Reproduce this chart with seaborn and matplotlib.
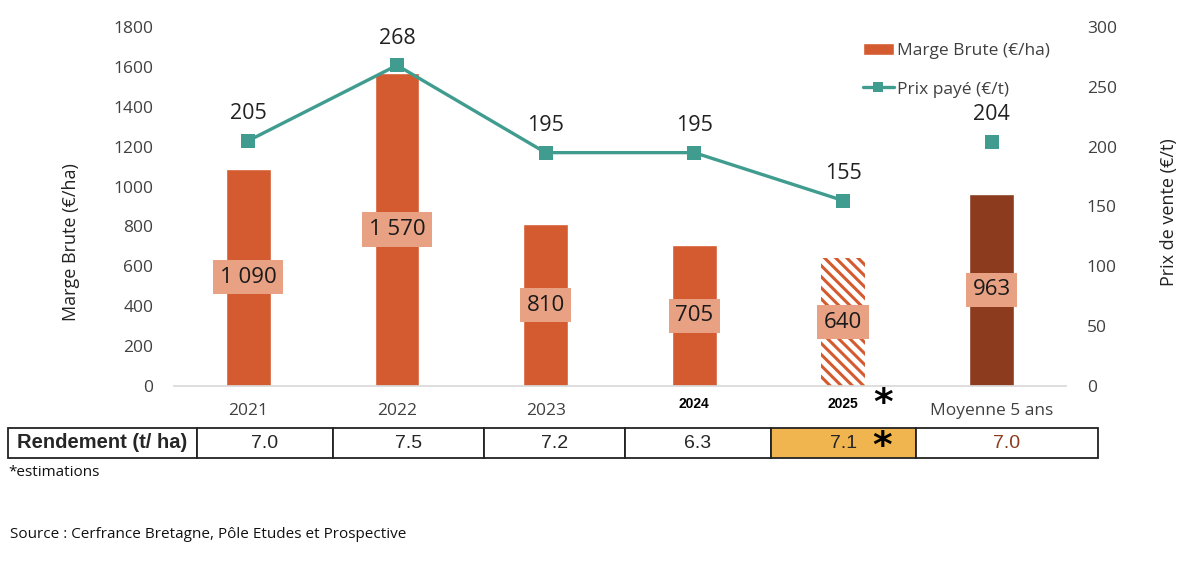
import numpy as np
import pandas as pd
import matplotlib.pyplot as plt
import seaborn as sns
from matplotlib.patches import Patch
from matplotlib.lines import Line2D

# données
years = ['2021', '2022', '2023', '2024', '2025', 'Moyenne 5 ans']
marge = [1090, 1570, 810, 705, 640, 963]
marge_labels = ['1 090', '1 570', '810', '705', '640', '963']
prix = [205, 268, 195, 195, 155, 204]
rendement = ['7.0', '7.5', '7.2', '6.3', '7.1', '7.0']
rendement_titre = 'Rendement (t/ ha)'

orange = '#D35B2F'
brun = '#8C3B1F'
saumon = '#E9A184'
vert = '#3F9C8F'
gris = '#404040'

sns.set_theme(style='white')
plt.rcParams['font.family'] = ['Open Sans', 'DejaVu Sans']
plt.rcParams['hatch.linewidth'] = 2.2

fig = plt.figure(figsize=(12, 5.69), dpi=100)
ax = fig.add_axes([174 / 1200, 1 - 386 / 569, 892 / 1200, 359 / 569])

# barres : marge brute
df = pd.DataFrame({'annee': years, 'marge': marge})
sns.barplot(data=df, x='annee', y='marge', hue='annee',
            palette=[orange] * 5 + [brun], legend=False,
            width=0.3, saturation=1, ax=ax)
bars = ax.patches
bars[4].set_facecolor('white')
bars[4].set_edgecolor(orange)
bars[4].set_hatch('\\\\\\')
bars[4].set_linewidth(0)

x_pos = np.arange(len(years))
for i, v in enumerate(marge):
    ax.text(x_pos[i], v / 2, marge_labels[i], ha='center', va='center',
            fontsize=16, color='#1a1a1a', fontweight='medium',
            bbox=dict(boxstyle='square,pad=0.3', facecolor=saumon, edgecolor='none'))

ax.set_xlim(-0.5, len(years) - 0.5)
ax.set_ylim(0, 1800)
ax.set_yticks(range(0, 1801, 200))
ax.set_xticks(x_pos)
ax.set_xticklabels([y if i not in (3, 4) else '' for i, y in enumerate(years)])
ax.set_xticks(np.arange(-0.5, len(years), 1), minor=True)
ax.tick_params(axis='x', which='major', length=0, pad=12, labelsize=12.5, labelcolor=gris)
ax.tick_params(axis='x', which='minor', length=6, color='#D9D9D9', width=1)
ax.tick_params(axis='y', length=0, pad=15, labelsize=12.5, labelcolor=gris)
for s in ['left', 'right', 'top']:
    ax.spines[s].set_visible(False)
ax.spines['bottom'].set_color('#D9D9D9')
ax.set_xlabel('')
ax.set_ylabel('Marge Brute (€/ha)', fontsize=13, color='#222222')
ax.yaxis.set_label_coords(-0.105, 0.40)

# 2024 et 2025 dans une autre police
for i in (3, 4):
    ax.text(x_pos[i], -0.03, years[i], transform=ax.get_xaxis_transform(),
            ha='center', va='top', fontsize=10, fontweight='bold',
            family='Liberation Sans', color='black')
ax.text(4.27, 0.0, '*', transform=ax.get_xaxis_transform(), ha='center', va='top',
        fontsize=27, fontweight='bold', family='DejaVu Sans', color='black')

# ligne : prix payé
ax2 = ax.twinx()
sns.lineplot(x=x_pos[:5], y=prix[:5], ax=ax2, color=vert, lw=2.4,
             marker='s', markersize=9.5, markeredgewidth=0)
sns.scatterplot(x=x_pos[5:], y=prix[5:], ax=ax2, color=vert, marker='s', s=90, linewidth=0)
for i, v in enumerate(prix):
    ax2.annotate(str(v), (x_pos[i], v), xytext=(0, 12), textcoords='offset points',
                 ha='center', va='bottom', fontsize=15.5, color='#222222')
ax2.set_ylim(0, 300)
ax2.set_yticks(range(0, 301, 50))
ax2.set_xlim(-0.5, len(years) - 0.5)
ax2.tick_params(axis='y', length=0, pad=15, labelsize=12.5, labelcolor=gris)
for s in ax2.spines.values():
    s.set_visible(False)
ax2.set_ylabel('Prix de vente (€/t)', fontsize=13, color='#222222')
ax2.yaxis.set_label_coords(1.105, 0.485)

handles = [Patch(facecolor=orange, label='Marge Brute (€/ha)'),
           Line2D([0], [0], color=vert, lw=2.4, marker='s', markersize=7.5,
                  markeredgewidth=0, label='Prix payé (€/t)')]
ax2.legend(handles=handles, loc='upper right', bbox_to_anchor=(1.0, 1.0),
           frameon=False, fontsize=12.5, labelspacing=1.3, handlelength=1.8,
           handletextpad=0.2, labelcolor=gris)

# tableau des rendements
tax = fig.add_axes([8 / 1200, 1 - 458 / 569, 1090 / 1200, 30 / 569])
tax.axis('off')
widths = [189, 136, 151, 141, 146, 145, 182]
tbl = tax.table(cellText=[[rendement_titre] + rendement],
                colWidths=[w / sum(widths) for w in widths],
                cellLoc='center', bbox=[0, 0, 1, 1])
tbl.auto_set_font_size(False)
tbl.set_fontsize(14)
for (r, c), cell in tbl.get_celld().items():
    cell.set_linewidth(1.3)
    cell.set_edgecolor('#222222')
    cell.get_text().set_family('Liberation Sans')
tbl[0, 0].get_text().set_fontweight('bold')
tbl[0, 0].get_text().set_fontsize(14.5)
tbl[0, 5].set_facecolor('#F0B54F')
tbl[0, 6].get_text().set_color(brun)
fig.text(882 / 1200, 1 - 429 / 569, '*', ha='center', va='top', fontsize=27,
         fontweight='bold', family='DejaVu Sans', color='black')

fig.text(8 / 1200, 1 - 472 / 569, '*estimations', ha='left', va='center',
         fontsize=11, family='Open Sans', color='#111111')
fig.text(10 / 1200, 1 - 535 / 569, 'Source : Cerfrance Bretagne, Pôle Etudes et Prospective',
         ha='left', va='center', fontsize=11, family='Open Sans', color='#111111')

fig.savefig('out.png', dpi=100)
